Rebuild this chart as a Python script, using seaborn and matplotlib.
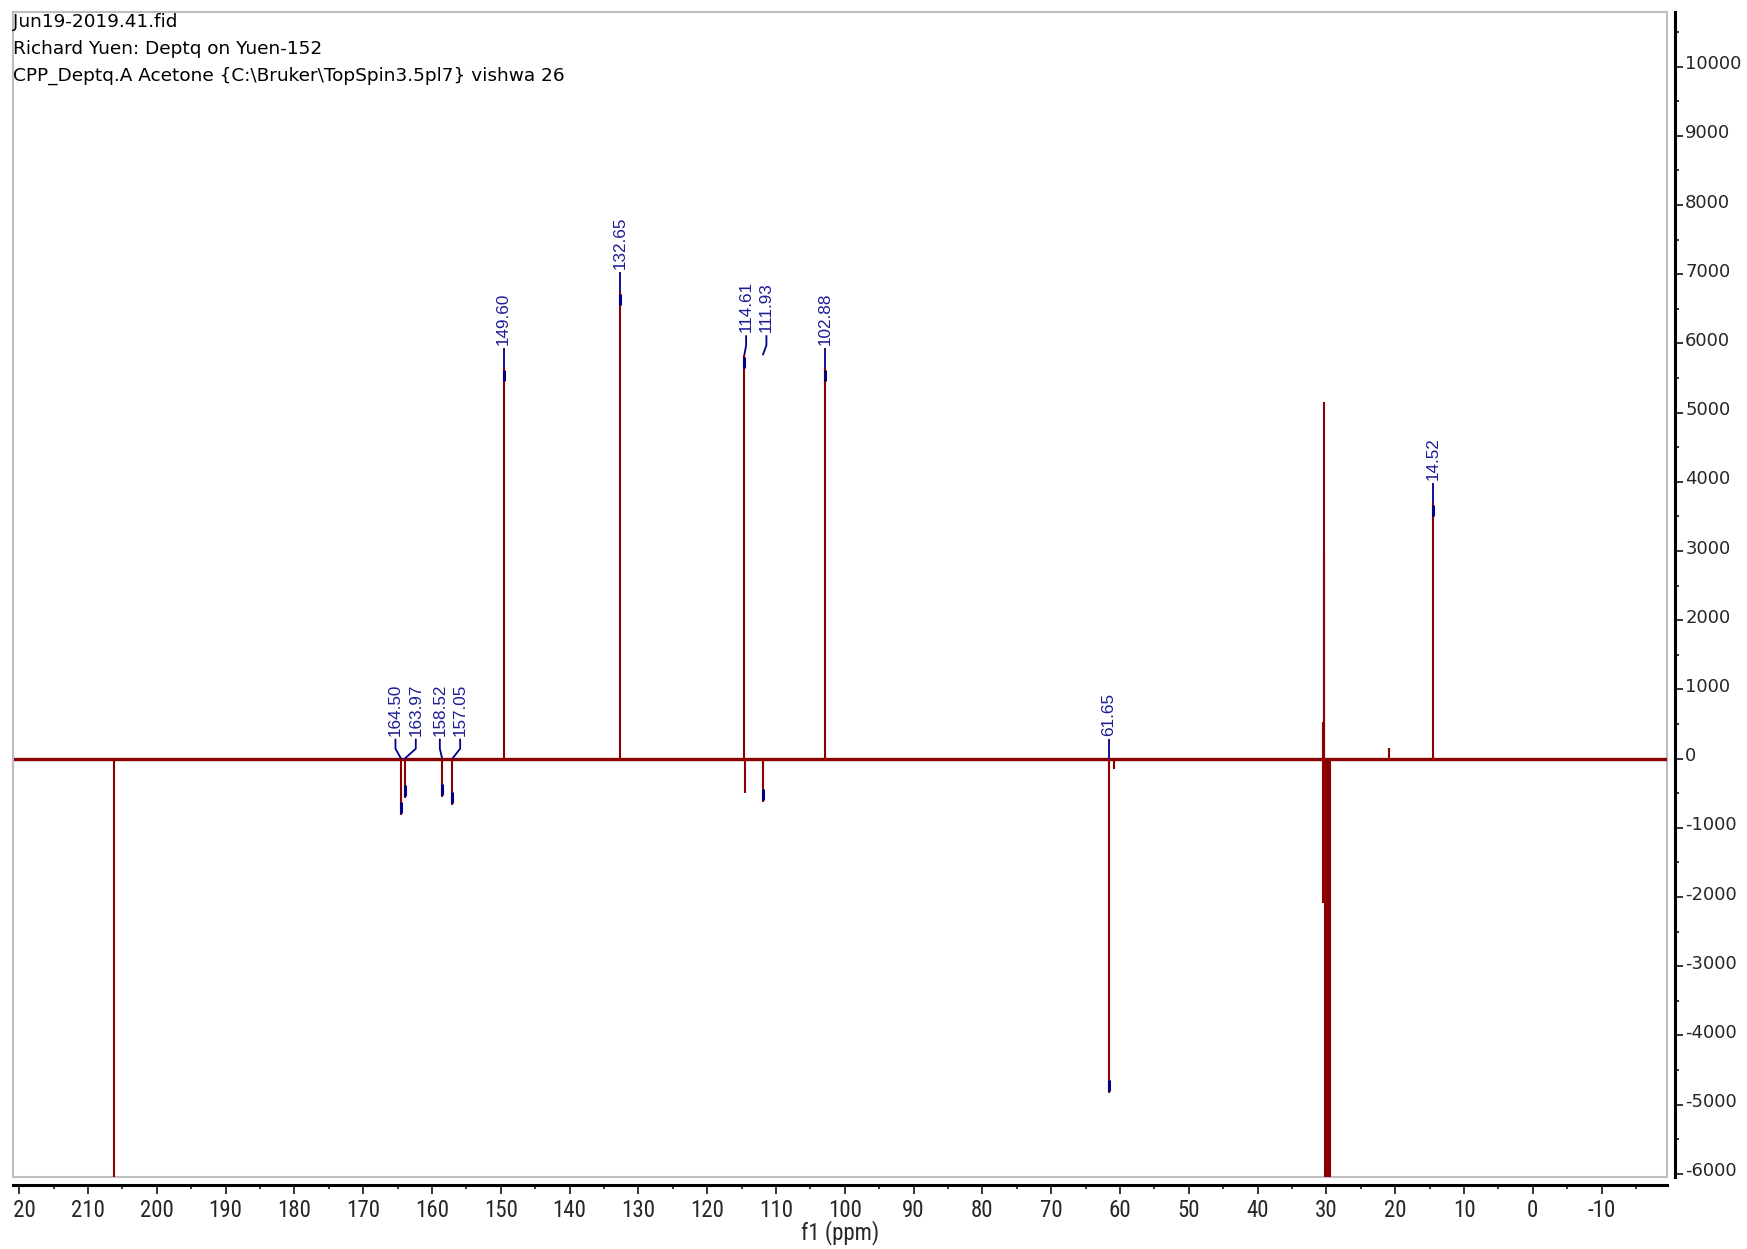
import numpy as np
import pandas as pd
import matplotlib.pyplot as plt
import seaborn as sns
from matplotlib.patches import Rectangle
from matplotlib.ticker import MultipleLocator
from matplotlib.transforms import Bbox, TransformedBbox, ScaledTranslation

sns.set_style("white")
plt.rcParams['font.family'] = ['DejaVu Sans']
plt.rcParams['axes.unicode_minus'] = False

# Header text
header_lines = ['Jun19-2019.41.fid',
                'Richard Yuen: Deptq on Yuen-152',
                'CPP_Deptq.A Acetone {C:\\Bruker\\TopSpin3.5pl7} vishwa 26']

# Labelled peaks (ppm, intensity)
peak_ppm = [164.50, 163.97, 158.52, 157.05, 149.60, 132.65, 114.61, 111.93, 102.88, 61.65, 14.52]
peak_int = [-815, -569, -554, -670, 5650, 6740, 5830, -630, 5640, -4830, 3700]

# Unlabelled lines: acetone-d6 solvent and small signals
other_ppm = [206.26, 114.50, 60.85, 30.45, 30.45, 30.38, 30.34, 30.22, 30.07, 29.92, 29.76, 29.61, 29.46, 20.90]
other_int = [-9000, -490, -150, 530, -2090, 5160, 2900, -9000, -9000, -9000, -9000, -9000, -9000, 150]

# Axis ticks
x_ticks = [220, 210, 200, 190, 180, 170, 160, 150, 140, 130, 120, 110, 100,
           90, 80, 70, 60, 50, 40, 30, 20, 10, 0, -10]
y_ticks = [-6000, -5000, -4000, -3000, -2000, -1000, 0, 1000, 2000, 3000,
           4000, 5000, 6000, 7000, 8000, 9000, 10000]

RED = '#8b0000'
NAVY = '#00008b'
NAVY_TXT = '#1c1c96'
GREY = '#bebebe'

W, H = 1747, 1249
fig = plt.figure(figsize=(W / 100, H / 100), dpi=100)
ax = fig.add_axes([13 / W, 72 / H, 1654 / W, 1165 / H])

X0, X1 = 220.9, -19.5
Y0, Y1 = -6045, 10790
ax.set_xlim(X0, X1)
ax.set_ylim(Y0, Y1)
upx = (Y1 - Y0) / 1165.0  # data units per pixel

# Spectrum: baseline + stick lines
ax.axhline(0, color=RED, lw=2.4, zorder=2)
spec = pd.DataFrame({'ppm': peak_ppm + other_ppm, 'int': peak_int + other_int})
ax.vlines(spec['ppm'], 0, spec['int'], color=RED, lw=1.5, zorder=3)


# Peak labels, spread apart where they would overlap
def spread_labels(pos, gap):
    groups = [[p] for p in sorted(pos, reverse=True)]

    def place(g):
        c = np.mean(g)
        n = len(g)
        return [c + gap * ((n - 1) / 2 - i) for i in range(n)]

    merged = True
    while merged:
        merged = False
        for i in range(len(groups) - 1):
            a = place(groups[i])
            b = place(groups[i + 1])
            if a[-1] - b[0] < gap:
                groups[i] = groups[i] + groups[i + 1]
                del groups[i + 1]
                merged = True
                break
    res = {}
    for g in groups:
        for p, lp in zip(sorted(g, reverse=True), place(g)):
            res[p] = (lp - 0.4 * (len(g) > 1), g)
    return res


height = dict(zip(peak_ppm, peak_int))
layout = spread_labels(peak_ppm, 2.95)
for p in peak_ppm:
    lx, grp = layout[p]
    h = height[p]
    anchor = max(0, max(height[q] for q in grp))
    ax.plot([p, lx, lx], [anchor, anchor + 10 * upx, anchor + 20 * upx],
            color=NAVY, lw=1.3, zorder=4, solid_capstyle='butt')
    s = 1 if h > 0 else -1
    ax.plot([p, p], [h - s * 2 * upx, h - s * 13 * upx], color=NAVY, lw=2.2,
            zorder=5, solid_capstyle='butt')
    ax.text(lx, anchor + 23 * upx, f'{p:.2f}', rotation=90, ha='center', va='bottom',
            color=NAVY_TXT, fontsize=12.3, family=['Liberation Sans', 'DejaVu Sans'])

# Frame and axes
for side in ['left', 'top']:
    ax.spines[side].set_color(GREY)
    ax.spines[side].set_linewidth(1.5)
for side in ['right', 'bottom']:
    ax.spines[side].set_color('black')
    ax.spines[side].set_linewidth(2.2)
    ax.spines[side].set_position(('outward', 5.8))
ax.add_patch(Rectangle((0, 0), 1, 1, transform=ax.transAxes, fill=False,
                       ec=GREY, lw=1.5, clip_on=False, zorder=1))

ax.set_xticks(x_ticks)
ax.xaxis.set_minor_locator(MultipleLocator(5))
ax.yaxis.tick_right()
ax.set_yticks(y_ticks)
ax.yaxis.set_minor_locator(MultipleLocator(500))

narrow = ['Roboto Condensed', 'Liberation Sans Narrow', 'DejaVu Sans']
ax.tick_params(axis='x', which='both', bottom=True, top=False, direction='out',
               width=1.1, color='black')
ax.tick_params(axis='x', which='major', length=6.5, pad=3.5, labelsize=16.5)
ax.tick_params(axis='x', which='minor', length=3.2)
ax.tick_params(axis='y', which='both', right=True, left=False, labelright=True,
               labelleft=False, direction='out', width=1.1, color='black')
ax.tick_params(axis='y', which='major', length=5.8, pad=1.5, labelsize=13)
ax.tick_params(axis='y', which='minor', length=3.2)

clip = TransformedBbox(Bbox([[0, -1], [1, 1]]), ax.transAxes)
for lab in ax.get_xticklabels():
    lab.set_family(narrow)
    lab.set_clip_box(clip)
    lab.set_clip_on(True)
for lab in ax.get_yticklabels():
    lab.set_transform(lab.get_transform() + ScaledTranslation(0, 4.5 / 100, fig.dpi_scale_trans))

ax.set_xlabel('f1 (ppm)', fontsize=16.5, family=narrow)
ax.xaxis.label.set_va('center')
ax.xaxis.set_label_coords(0.5, (1249 - 1233 - 72) / 1165)
ax.set_ylabel('')

for i, line in enumerate(header_lines):
    fig.text(13 / W, 1 - (27 + 26.7 * i) / H, line, fontsize=13.3, va='baseline',
             ha='left', color='black')

fig.savefig('out.png', dpi=100)
